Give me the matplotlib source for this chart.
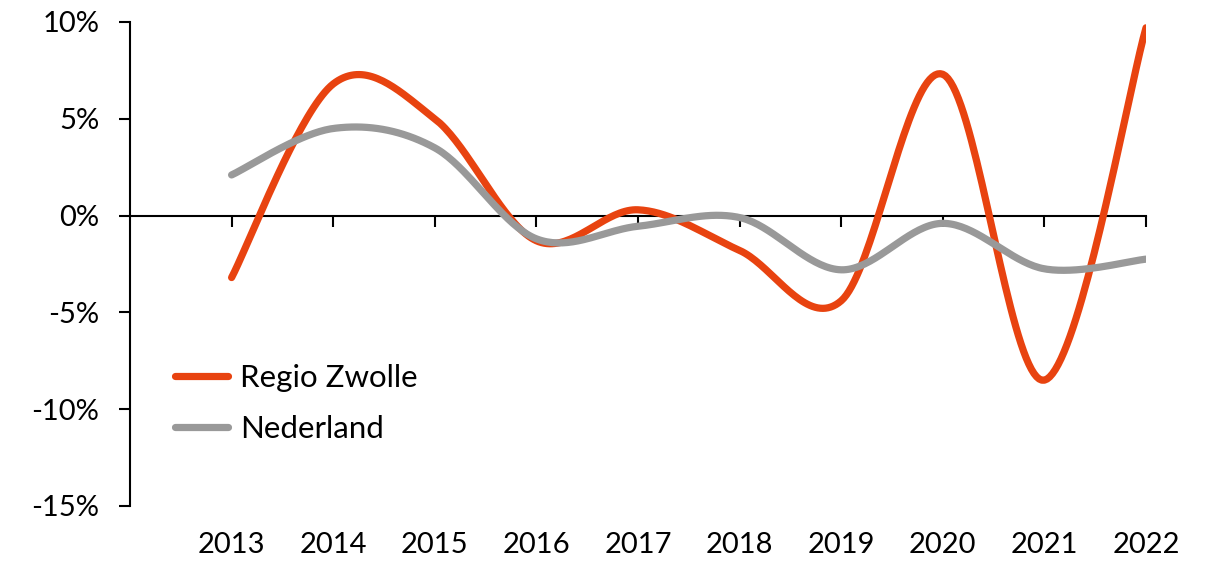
import numpy as np
import matplotlib
matplotlib.use("Agg")
import matplotlib.pyplot as plt
from matplotlib.lines import Line2D
import matplotlib.transforms as mtransforms

years = ["2013", "2014", "2015", "2016", "2017", "2018", "2019", "2020", "2021", "2022"]
regio_zwolle = [-3.2, 6.8, 5.0, -1.3, 0.3, -1.8, -4.4, 7.3, -8.5, 9.7]
nederland = [2.1, 4.5, 3.5, -1.2, -0.55, -0.1, -2.8, -0.4, -2.75, -2.25]
y_ticks = [-15, -10, -5, 0, 5, 10]
y_labels = ["-15%", "-10%", "-5%", "0%", "5%", "10%"]
series_names = ["Regio Zwolle", "Nederland"]

plt.rcParams['font.family'] = ['Lato', 'DejaVu Sans']

ORANGE = "#E84310"
GRAY = "#999999"
FS = 21
LFS = 22.5


def smooth(xs, ys, n=40):
    """Excel-like smoothed line (Catmull-Rom Bezier segments)."""
    xs = np.asarray(xs, float)
    ys = np.asarray(ys, float)
    P = np.column_stack([xs, ys])
    P = np.vstack([P[0], P, P[-1]])
    out = []
    t = np.linspace(0, 1, n)[:, None]
    for i in range(1, len(P) - 2):
        p0, p1, p2, p3 = P[i - 1], P[i], P[i + 1], P[i + 2]
        c1 = p1 + (p2 - p0) / 6.0
        c2 = p2 - (p3 - p1) / 6.0
        seg = ((1 - t) ** 3) * p1 + 3 * ((1 - t) ** 2) * t * c1 + 3 * (1 - t) * t ** 2 * c2 + t ** 3 * p2
        out.append(seg if i == 1 else seg[1:])
    out = np.vstack(out)
    return out[:, 0], out[:, 1]


fig = plt.figure(figsize=(12.09, 5.62), dpi=100)
W, H = 1209, 562
ax = fig.add_axes([130 / W, 1 - 506 / H, (1146 - 130) / W, (506 - 22) / H])

x = np.arange(len(years))
for vals, col, name in [(regio_zwolle, ORANGE, series_names[0]), (nederland, GRAY, series_names[1])]:
    sx, sy = smooth(x, vals)
    ax.plot(sx, sy, color=col, lw=5.2, solid_capstyle='round', label=name, zorder=3)

ax.set_xlim(-1, len(years) - 1)
ax.set_ylim(-15, 10)

for s in ['top', 'right']:
    ax.spines[s].set_visible(False)
ax.spines['bottom'].set_position(('data', 0))
ax.spines['bottom'].set_linewidth(1.5)
ax.spines['left'].set_linewidth(1.5)
ax.spines['bottom'].set_zorder(2)

ax.set_xticks(x)
ax.set_xticklabels([])
ax.tick_params(axis='x', direction='out', length=8, width=1.5, color='black')
ax.set_yticks(y_ticks)
ax.set_yticklabels(y_labels, fontsize=FS)
ax.tick_params(axis='y', direction='out', length=8, width=1.5, pad=14, color='black')

trans = mtransforms.blended_transform_factory(ax.transData, ax.transAxes)
for xi, lab in zip(x, years):
    ax.text(xi, -0.08, lab, transform=trans, ha='center', va='center', fontsize=FS)

handles = [Line2D([0], [0], color=ORANGE, lw=5.2, solid_capstyle='round'),
           Line2D([0], [0], color=GRAY, lw=5.2, solid_capstyle='round')]
leg = ax.legend(handles, series_names, loc='center left', bbox_to_anchor=(0.044, 0.212),
                frameon=False, fontsize=LFS, handlelength=1.7, handletextpad=0.4,
                labelspacing=0.72, borderaxespad=0, borderpad=0)

fig.savefig("out.png", dpi=100)
